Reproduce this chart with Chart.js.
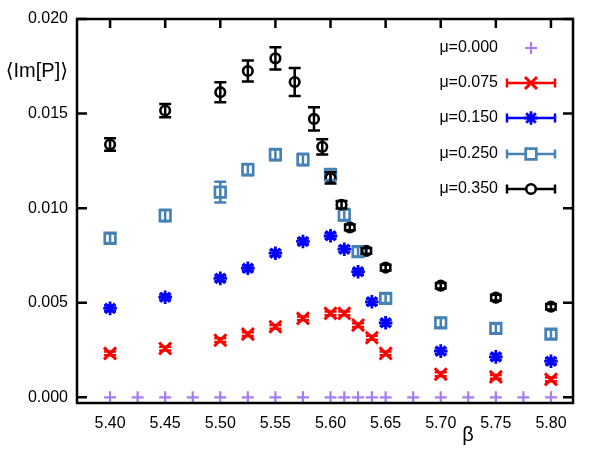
<!DOCTYPE html>
<html>
<head>
<meta charset="utf-8">
<script src="https://cdn.jsdelivr.net/npm/chart.js@4.4.0/dist/chart.umd.min.js"></script>
<style>
  html, body { margin: 0; padding: 0; background: #fff; }
  #wrap { width: 600px; height: 450px; }
</style>
</head>
<body>
<div id="wrap"><canvas id="plot"></canvas></div>
<script>
// tick labels
const betaTicks = [5.40, 5.45, 5.50, 5.55, 5.60, 5.65, 5.70, 5.75, 5.80]
const imTicks = [0.000, 0.005, 0.010, 0.015, 0.020]

// series
const labels = ['μ=0.000', 'μ=0.075', 'μ=0.150', 'μ=0.250', 'μ=0.350']

const beta000 = [5.40, 5.425, 5.45, 5.475, 5.50, 5.525, 5.55, 5.575, 5.60, 5.6125, 5.625, 5.6375, 5.65, 5.675, 5.70, 5.725, 5.75, 5.775, 5.80]
const im000 = [0, 0, 0, 0, 0, 0, 0, 0, 0, 0, 0, 0, 0, 0, 0, 0, 0, 0, 0]

const beta075 = [5.40, 5.45, 5.50, 5.525, 5.55, 5.575, 5.60, 5.6125, 5.625, 5.6375, 5.65, 5.70, 5.75, 5.80]
const im075 = [0.00232, 0.00258, 0.00302, 0.00334, 0.00373, 0.00417, 0.00444, 0.00444, 0.00382, 0.00315, 0.00232, 0.00122, 0.00108, 0.00095]
const err075 = [0.0001, 0.0001, 0.0001, 0.0001, 0.0001, 0.0001, 0.0001, 0.0001, 0.0001, 0.0001, 0.0001, 0.0001, 0.0001, 0.0001]

const beta150 = [5.40, 5.45, 5.50, 5.525, 5.55, 5.575, 5.60, 5.6125, 5.625, 5.6375, 5.65, 5.70, 5.75, 5.80]
const im150 = [0.00470, 0.00529, 0.00629, 0.00682, 0.00762, 0.00824, 0.00854, 0.00783, 0.00664, 0.00505, 0.00394, 0.00244, 0.00214, 0.00191]
const err150 = [0.00015, 0.00015, 0.00015, 0.00015, 0.00015, 0.00015, 0.00015, 0.00015, 0.00015, 0.00015, 0.00015, 0.00015, 0.00015, 0.00015]

const beta250 = [5.40, 5.45, 5.50, 5.525, 5.55, 5.575, 5.60, 5.6125, 5.625, 5.65, 5.70, 5.75, 5.80]
const im250 = [0.00841, 0.00961, 0.01085, 0.01204, 0.01283, 0.01257, 0.01177, 0.00965, 0.00770, 0.00523, 0.00394, 0.00364, 0.00334]
const err250 = [0.00025, 0.0003, 0.00055, 0.0003, 0.0003, 0.0003, 0.0003, 0.0003, 0.00025, 0.00025, 0.00025, 0.00025, 0.00025]

const beta350 = [5.40, 5.45, 5.50, 5.525, 5.55, 5.5675, 5.585, 5.5925, 5.60, 5.61, 5.6175, 5.6325, 5.65, 5.70, 5.75, 5.80]
const im350 = [0.01336, 0.01516, 0.01613, 0.01725, 0.01792, 0.01667, 0.01472, 0.01324, 0.01160, 0.01018, 0.00898, 0.00774, 0.00686, 0.00590, 0.00527, 0.00479]
const err350 = [0.00033, 0.00035, 0.00053, 0.00056, 0.00059, 0.00074, 0.00062, 0.0004, 0.0003, 0.0002, 0.00015, 0.00015, 0.00015, 0.00015, 0.00015, 0.00015]

const FONT = '"Liberation Sans", Arial, "DejaVu Sans", sans-serif'

function pts(xs, ys){
  return xs.map((x, i) => ({ x: x, y: ys[i] }))
}

function makeSet(i, xs, ys, errs, color, style, radius, width){
  return {
    label: labels[i],
    data: pts(xs, ys),
    errors: errs,
    showLine: false,
    pointStyle: style,
    pointRadius: radius,
    pointHoverRadius: radius,
    pointBorderWidth: width,
    pointBorderColor: color,
    pointBackgroundColor: 'rgba(0,0,0,0)',
    borderColor: color,
    backgroundColor: 'rgba(0,0,0,0)',
    order: 4 - i
  }
}

const datasets = [
  makeSet(0, beta000, im000, null, '#a77cf2', 'cross', 6, 2.2),
  makeSet(1, beta075, im075, err075, '#ff0000', 'crossRot', 8.5, 3),
  makeSet(2, beta150, im150, err150, '#0000ff', 'star', 6.8, 2.8),
  makeSet(3, beta250, im250, err250, '#4682b4', 'rect', 7.5, 2.7),
  makeSet(4, beta350, im350, err350, '#000000', 'circle', 4.8, 2.6)
]

// error bars, drawn from the error arrays through the scales
const errorBars = {
  id: 'errorBars',
  afterDatasetsDraw(chart){
    const ctx = chart.ctx
    const y = chart.scales.y
    ctx.save()
    chart.data.datasets.forEach((ds, i) => {
      if (!ds.errors) return
      const meta = chart.getDatasetMeta(i)
      ctx.strokeStyle = ds.borderColor
      ctx.lineWidth = 2.5
      meta.data.forEach((el, j) => {
        const v = ds.data[j].y
        const e = ds.errors[j]
        const top = y.getPixelForValue(v + e)
        const bot = y.getPixelForValue(v - e)
        ctx.beginPath()
        ctx.moveTo(el.x, top); ctx.lineTo(el.x, bot)
        ctx.moveTo(el.x - 6, top); ctx.lineTo(el.x + 6, top)
        ctx.moveTo(el.x - 6, bot); ctx.lineTo(el.x + 6, bot)
        ctx.stroke()
      })
    })
    ctx.restore()
  }
}

// frame, inward ticks, axis titles and key
const decor = {
  id: 'decor',
  afterDraw(chart){
    const ctx = chart.ctx
    const a = chart.chartArea
    const xs = chart.scales.x
    const ys = chart.scales.y
    ctx.save()
    ctx.strokeStyle = '#000'
    ctx.lineWidth = 2.5
    ctx.strokeRect(a.left, a.top, a.right - a.left, a.bottom - a.top)
    ctx.beginPath()
    imTicks.forEach(v => {
      const py = ys.getPixelForValue(v)
      ctx.moveTo(a.left, py); ctx.lineTo(a.left + 10, py)
      ctx.moveTo(a.right, py); ctx.lineTo(a.right - 10, py)
    })
    betaTicks.forEach(v => {
      const px = xs.getPixelForValue(v)
      ctx.moveTo(px, a.top); ctx.lineTo(px, a.top + 9)
    })
    ctx.stroke()

    ctx.fillStyle = '#000'
    ctx.font = '20px ' + FONT
    ctx.textBaseline = 'middle'
    ctx.textAlign = 'right'
    ctx.fillText('⟨Im[P]⟩', 68, 71)
    ctx.textAlign = 'center'
    ctx.fillText('β', 468, 435)

    // key
    ctx.font = '16px ' + FONT
    const rowY = [48, 83, 118, 154, 189]
    chart.data.datasets.forEach((ds, i) => {
      const ry = rowY[i]
      ctx.fillStyle = '#000'
      ctx.textAlign = 'right'
      ctx.fillText(ds.label, 498, ry)
      ctx.strokeStyle = ds.borderColor
      ctx.lineWidth = 2.5
      if (ds.errors){
        ctx.beginPath()
        ctx.moveTo(507, ry); ctx.lineTo(555, ry)
        ctx.moveTo(507, ry - 4.5); ctx.lineTo(507, ry + 4.5)
        ctx.moveTo(555, ry - 4.5); ctx.lineTo(555, ry + 4.5)
        ctx.stroke()
      }
      if (Chart.helpers && Chart.helpers.drawPoint){
        ctx.fillStyle = '#fff'
        ctx.lineWidth = ds.pointBorderWidth
        Chart.helpers.drawPoint(ctx, {
          pointStyle: ds.pointStyle,
          radius: ds.pointRadius,
          rotation: 0,
          borderWidth: ds.pointBorderWidth
        }, 531, ry)
      }
    })
    ctx.restore()
  }
}

new Chart(document.getElementById('plot'), {
  type: 'scatter',
  data: { datasets: datasets },
  options: {
    responsive: true,
    maintainAspectRatio: false,
    animation: false,
    devicePixelRatio: 1,
    layout: { padding: { left: 0, right: 27, top: 19, bottom: 0 } },
    plugins: {
      legend: { display: false },
      tooltip: { enabled: false }
    },
    scales: {
      x: {
        type: 'linear',
        min: 5.37,
        max: 5.82,
        grid: { display: false, drawTicks: false },
        border: { display: false },
        afterBuildTicks: s => { s.ticks = betaTicks.map(v => ({ value: v })) },
        afterFit: s => { s.height = 47 },
        ticks: {
          padding: 11,
          color: '#000',
          font: { family: FONT, size: 16 },
          maxRotation: 0,
          callback: v => Number(v).toFixed(2)
        }
      },
      y: {
        type: 'linear',
        min: -0.0003,
        max: 0.02,
        grid: { display: false, drawTicks: false },
        border: { display: false },
        afterBuildTicks: s => { s.ticks = imTicks.map(v => ({ value: v })) },
        afterFit: s => { s.width = 77 },
        ticks: {
          padding: 9,
          color: '#000',
          font: { family: FONT, size: 16 },
          callback: v => Number(v).toFixed(3)
        }
      }
    }
  },
  plugins: [errorBars, decor]
})
</script>
</body>
</html>
